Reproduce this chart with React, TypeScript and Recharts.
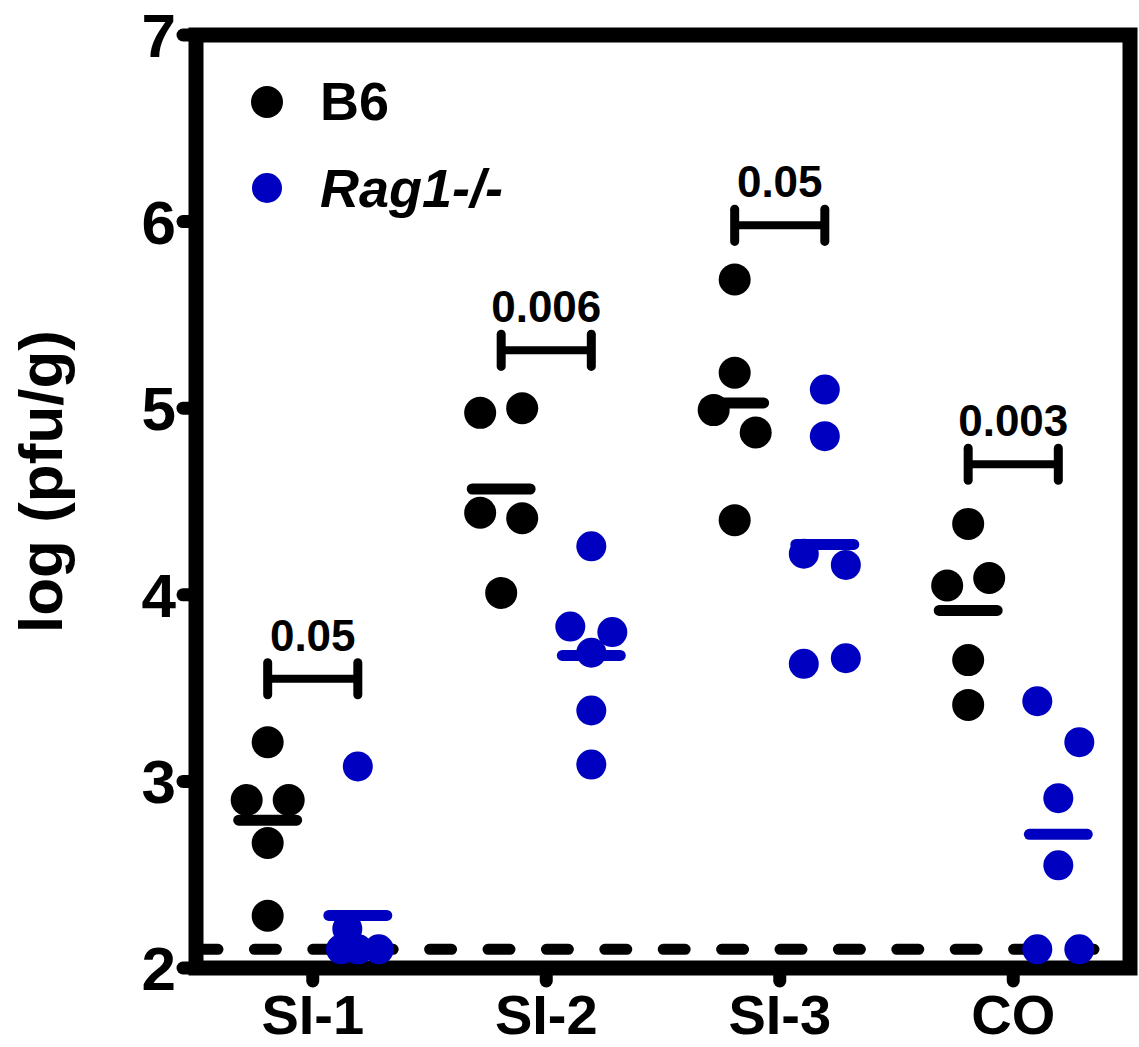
import React from 'react';
import {
  ScatterChart,
  Scatter,
  XAxis,
  YAxis,
  ReferenceLine,
  ReferenceArea,
  Legend,
  Label,
} from 'recharts';

// ---------- data ----------
const categories = ['SI-1', 'SI-2', 'SI-3', 'CO'];
const yTicks = [2, 3, 4, 5, 6, 7];
const seriesNames = ['B6', 'Rag1-/-'];
const seriesColors = ['#000000', '#0000C0'];
const seriesItalic = [false, true];

// B6 log(pfu/g) per tissue
const b6SI1 = [3.21, 2.9, 2.9, 2.67, 2.28];
const b6SI2 = [4.975, 5.0, 4.44, 4.41, 4.01];
const b6SI3 = [5.69, 5.19, 4.99, 4.87, 4.4];
const b6CO = [4.38, 4.05, 4.09, 3.65, 3.41];
// dot-plot column of each point (-1 left, 0 centre, 1 right)
const b6SI1Col = [0, -1, 1, 0, 0];
const b6SI2Col = [-1, 1, -1, 1, 0];
const b6SI3Col = [0, 0, -1, 1, 0];
const b6COCol = [0, -1, 1, 0, 0];

// Rag1-/- log(pfu/g) per tissue
const ragSI1 = [3.08, 2.21, 2.1, 2.1, 2.1, 2.1];
const ragSI2 = [4.26, 3.83, 3.8, 3.69, 3.38, 3.09];
const ragSI3 = [5.1, 4.85, 4.22, 4.16, 3.63, 3.66];
const ragCO = [3.43, 3.21, 2.91, 2.55, 2.1, 2.1];
const ragSI1Col = [0, -0.5, -0.8, 1, 0, 0];
const ragSI2Col = [0, -1, 1, 0, 0, 0];
const ragSI3Col = [0, 0, -1, 1, -1, 1];
const ragCOCol = [-1, 1, 0, 0, -1, 1];

const pValues = ['0.05', '0.006', '0.05', '0.003'];
const bracketLevels = [3.55, 5.31, 5.98, 4.7];
const detectionLimit = 2.1;

// ---------- layout constants ----------
const FONT = "'Liberation Sans', Arial, Helvetica, sans-serif";
const GROUP_OFFSET = 0.193;
const COL_STEP = 0.09;
const MEAN_HALF = 0.124;
const CAP_HALF = 0.086;

const b6Groups = [
  [b6SI1, b6SI1Col],
  [b6SI2, b6SI2Col],
  [b6SI3, b6SI3Col],
  [b6CO, b6COCol],
];
const ragGroups = [
  [ragSI1, ragSI1Col],
  [ragSI2, ragSI2Col],
  [ragSI3, ragSI3Col],
  [ragCO, ragCOCol],
];

const toPoints = (groups: any[], side: number) =>
  groups.flatMap(([vals, cols]: any, ci: number) =>
    vals.map((v: number, i: number) => ({
      x: ci + 0.5 + side * GROUP_OFFSET + cols[i] * COL_STEP,
      y: v,
    }))
  );

const mean = (a: number[]) => a.reduce((s, v) => s + v, 0) / a.length;

const b6Points = toPoints(b6Groups, -1);
const ragPoints = toPoints(ragGroups, 1);
const b6Means = b6Groups.map(([v]: any) => mean(v));
const ragMeans = ragGroups.map(([v]: any) => mean(v));
const catTicks = categories.map((_, i) => i + 0.5);

const dot = (r: number, color: string) => (props: any) =>
  props.cx == null ? null : <circle cx={props.cx} cy={props.cy} r={r} fill={color} />;

const renderYLabel = (props: any) => {
  const vb = props.viewBox || { x: 0, y: 35, width: 196, height: 933 };
  const x = vb.x + 62;
  const y = vb.y + vb.height / 2 - 20;
  return (
    <text
      x={x}
      y={y}
      transform={`rotate(-90 ${x} ${y})`}
      textAnchor="middle"
      fontFamily={FONT}
      fontWeight={700}
      fontSize={62}
      fill="#000"
    >
      log (pfu/g)
    </text>
  );
};

const renderLegend = (props: any) => {
  const payload = props.payload || [];
  return (
    <svg width={600} height={240} style={{ display: 'block', overflow: 'visible' }}>
      {payload.map((entry: any, i: number) => (
        <g key={i}>
          <circle cx={267} cy={102 + i * 86} r={i === 0 ? 16 : 15} fill={seriesColors[i]} />
          <text
            x={320}
            y={120 + i * 87}
            fontFamily={FONT}
            fontWeight={700}
            fontSize={54}
            fontStyle={seriesItalic[i] ? 'italic' : 'normal'}
            fill="#000"
          >
            {entry.value ?? seriesNames[i]}
          </text>
        </g>
      ))}
    </svg>
  );
};

const tickStyle = { fill: '#000', fontSize: 56, fontWeight: 700, fontFamily: FONT };
const tickLineStyle = { stroke: '#000', strokeWidth: 13, strokeLinecap: 'round' as const };

export default function App() {
  return (
    <div style={{ position: 'absolute', left: 0, top: 0, background: '#fff' }}>
      <ScatterChart width={1139} height={1047} margin={{ top: 35, right: 9, bottom: 0, left: 0 }}>
        <XAxis
          type="number"
          dataKey="x"
          domain={[0, 4]}
          ticks={catTicks}
          interval={0}
          tickFormatter={(v: number) => categories[Math.floor(v)]}
          height={79}
          axisLine={false}
          tickLine={tickLineStyle}
          tickSize={13}
          tickMargin={13}
          tick={tickStyle}
          allowDataOverflow
        />
        <YAxis
          type="number"
          dataKey="y"
          domain={[2, 7]}
          ticks={yTicks}
          interval={0}
          width={196}
          axisLine={false}
          tickLine={tickLineStyle}
          tickSize={13}
          tickMargin={7}
          tick={{ ...tickStyle, fontSize: 62 }}
          allowDataOverflow
        >
          <Label content={renderYLabel} />
        </YAxis>

        <ReferenceArea x1={0} x2={4} y1={2} y2={7} fill="none" fillOpacity={0} stroke="#000" strokeWidth={15} />

        {categories.map((c, i) => (
          <ReferenceLine
            key={`b6m-${c}`}
            segment={[
              { x: i + 0.5 - GROUP_OFFSET - MEAN_HALF, y: b6Means[i] },
              { x: i + 0.5 - GROUP_OFFSET + MEAN_HALF, y: b6Means[i] },
            ]}
            stroke={seriesColors[0]}
            strokeWidth={11}
            strokeLinecap="round"
          />
        ))}
        {categories.map((c, i) => (
          <ReferenceLine
            key={`ragm-${c}`}
            segment={[
              { x: i + 0.5 + GROUP_OFFSET - MEAN_HALF, y: ragMeans[i] },
              { x: i + 0.5 + GROUP_OFFSET + MEAN_HALF, y: ragMeans[i] },
            ]}
            stroke={seriesColors[1]}
            strokeWidth={11}
            strokeLinecap="round"
          />
        ))}

        {categories.map((c, i) => (
          <ReferenceLine
            key={`br-${c}`}
            segment={[
              { x: i + 0.5 - GROUP_OFFSET, y: bracketLevels[i] },
              { x: i + 0.5 + GROUP_OFFSET, y: bracketLevels[i] },
            ]}
            stroke="#000"
            strokeWidth={8}
            label={{
              value: pValues[i],
              position: 'top',
              offset: 28,
              fill: '#000',
              fontSize: 44,
              fontWeight: 700,
              fontFamily: FONT,
            }}
          />
        ))}
        {categories.map((c, i) => (
          <ReferenceLine
            key={`capL-${c}`}
            segment={[
              { x: i + 0.5 - GROUP_OFFSET, y: bracketLevels[i] - CAP_HALF },
              { x: i + 0.5 - GROUP_OFFSET, y: bracketLevels[i] + CAP_HALF },
            ]}
            stroke="#000"
            strokeWidth={9}
            strokeLinecap="round"
          />
        ))}
        {categories.map((c, i) => (
          <ReferenceLine
            key={`capR-${c}`}
            segment={[
              { x: i + 0.5 + GROUP_OFFSET, y: bracketLevels[i] - CAP_HALF },
              { x: i + 0.5 + GROUP_OFFSET, y: bracketLevels[i] + CAP_HALF },
            ]}
            stroke="#000"
            strokeWidth={9}
            strokeLinecap="round"
          />
        ))}

        <Scatter
          name={seriesNames[0]}
          data={b6Points}
          fill={seriesColors[0]}
          shape={dot(16, seriesColors[0])}
          isAnimationActive={false}
        />
        <Scatter
          name={seriesNames[1]}
          data={ragPoints}
          fill={seriesColors[1]}
          shape={dot(15, seriesColors[1])}
          isAnimationActive={false}
        />

        <ReferenceLine
          y={detectionLimit}
          stroke="#000"
          strokeWidth={11}
          strokeDasharray="22 36.4"
          strokeLinecap="round"
        />

        <Legend
          layout="horizontal"
          verticalAlign="middle"
          align="center"
          content={renderLegend}
          wrapperStyle={{ left: 0, top: 0, width: 600, height: 240 }}
        />
      </ScatterChart>
    </div>
  );
}
